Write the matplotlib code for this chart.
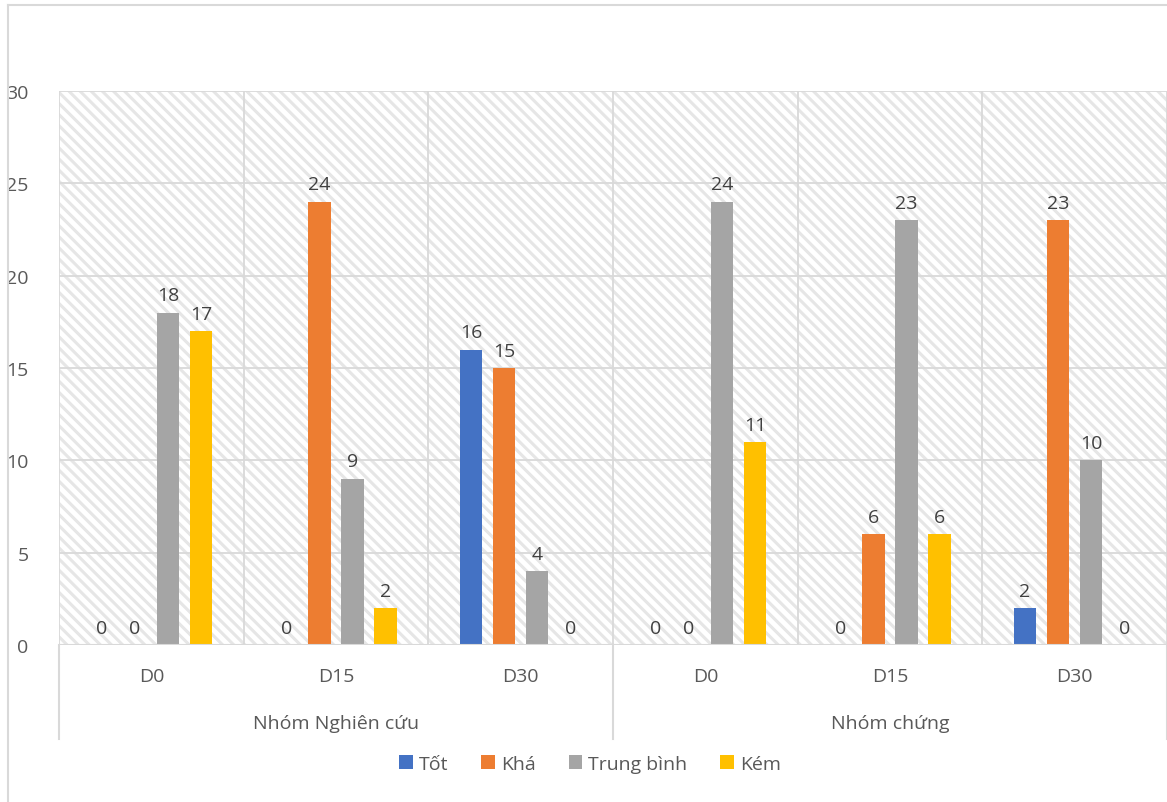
import numpy as np
import matplotlib.pyplot as plt
from matplotlib.patches import Rectangle
from matplotlib.lines import Line2D

plt.rcParams['font.family'] = ['Open Sans', 'DejaVu Sans']
plt.rcParams['hatch.linewidth'] = 2.2

# Data
groups = ["Nhóm Nghiên cứu", "Nhóm chứng"]
days = ["D0", "D15", "D30", "D0", "D15", "D30"]
series = ["Tốt", "Khá", "Trung bình", "Kém"]
tot = [0, 0, 16, 0, 0, 2]
kha = [0, 24, 15, 0, 6, 23]
trung_binh = [18, 9, 4, 24, 23, 10]
kem = [17, 2, 0, 11, 6, 0]
colors = ["#4472c4", "#ed7d31", "#a5a5a5", "#ffc000"]

text_col = "#595959"
grid_col = "#d9d9d9"
fs = 14

W, H = 1167, 803
fig = plt.figure(figsize=(W / 100, H / 100), dpi=100)
ax = fig.add_axes([59 / W, 1 - 646 / H, (1167 - 59) / W, (646 - 92) / H])

# hatched plot area background
ax.add_patch(Rectangle((0, 0), 1, 1, transform=ax.transAxes, facecolor="white",
                       edgecolor="#e6e6e6", hatch="\\\\\\", lw=0, zorder=0))

x = np.arange(len(days))
step = 0.179
width = 0.122
values = [tot, kha, trung_binh, kem]
for i, (name, vals, c) in enumerate(zip(series, values, colors)):
    xs = x + (i - 1.5) * step
    ax.bar(xs, vals, width, color=c, label=name, zorder=2)
    for xi, v in zip(xs, vals):
        ax.annotate(str(v), (xi, v), xytext=(0, 6), textcoords="offset points",
                    ha="center", va="bottom", fontsize=fs, color="#404040")

ax.set_xlim(-0.5, len(days) - 0.5)
ax.set_ylim(0, 30)
ax.set_yticks(range(0, 31, 5))
ax.set_xticks([])
ax.tick_params(axis="y", length=0, labelsize=fs, labelcolor=text_col, pad=22)

for yv in range(5, 31, 5):
    ax.axhline(yv, color=grid_col, lw=1.3, zorder=1)
for xv in np.arange(-0.5, len(days), 1):
    ax.axvline(xv, color=grid_col, lw=1.3, zorder=1)
for s in ax.spines.values():
    s.set_visible(False)
ax.axhline(0, color=grid_col, lw=1.5, zorder=3)

# category labels below axis
trans = ax.get_xaxis_transform()
for xi, d in enumerate(days):
    ax.text(xi, -31 / 554, d, transform=trans, ha="center", va="center",
            fontsize=fs, color=text_col)
for gi, g in enumerate(groups):
    ax.text(gi * 3 + 1, -78 / 554, g, transform=trans, ha="center", va="center",
            fontsize=fs, color=text_col)
for xv in [-0.5, 2.5, 5.5]:
    ax.plot([xv, xv], [0, -94 / 554], transform=trans, color=grid_col, lw=1.5,
            clip_on=False)

# chart border (cropped on right and bottom)
fig.add_artist(Line2D([8 / W, 8 / W], [0, 1 - 6 / H], color=grid_col, lw=1.5))
fig.add_artist(Line2D([8 / W, 1], [1 - 6 / H, 1 - 6 / H], color=grid_col, lw=1.5))

fig.legend(loc="center", bbox_to_anchor=(590 / W, 1 - 765 / H), ncol=4,
           frameon=False, fontsize=fs, labelcolor=text_col, handlelength=0.7,
           handleheight=0.7, handletextpad=0.3, columnspacing=1.7)

fig.savefig("out.png", dpi=100)
